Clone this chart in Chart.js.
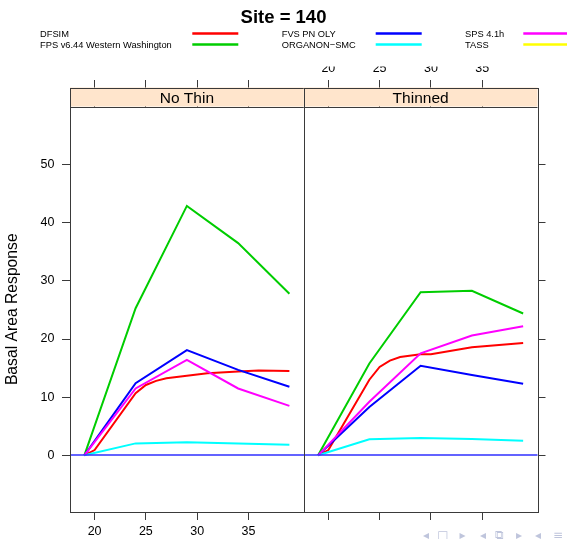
<!DOCTYPE html>
<html>
<head>
<meta charset="utf-8">
<script src="https://cdn.jsdelivr.net/npm/chart.js@4/dist/chart.umd.min.js"></script>
<style>
  html, body { margin: 0; padding: 0; background: #ffffff; }
  canvas { display: block; }
</style>
</head>
<body>
<canvas id="chart" width="567" height="539"></canvas>
<script>
// Basal area response by stand age for two thinning treatments, one line per growth model.
const mainTitle = 'Site = 140';
const panelNames = ['No Thin', 'Thinned'];
const yAxisTitle = 'Basal Area Response';
const seriesNames = ['DFSIM', 'FPS v6.44 Western Washington', 'FVS PN OLY',
                     'ORGANON\u2212SMC', 'SPS 4.1h', 'TASS'];
const seriesColors = ['#ff0000', '#00cd00', '#0000ff', '#00ffff', '#ff00ff', '#ffff00'];

const xTicks = [20, 25, 30, 35];
const yTicks = [0, 10, 20, 30, 40, 50];

// stand ages shared by most models
const ages = [19, 24, 29, 34, 39];
// DFSIM reports on a finer age grid
const dfsimAgesNoThin = [19, 20, 24, 25, 26, 27, 29, 31, 34, 36, 39];
const dfsimAgesThinned = [19, 20, 24, 25, 26, 27, 29, 30, 34, 39];

// No Thin
const dfsimNoThin   = [0, 0.9, 10.7, 12.1, 12.8, 13.25, 13.7, 14.1, 14.4, 14.6, 14.5];
const fpsNoThin     = [0, 25.3, 42.9, 36.5, 27.8];
const fvsNoThin     = [0, 12.4, 18.1, 14.7, 11.8];
const organonNoThin = [0, 2.05, 2.25, 2.05, 1.8];
const spsNoThin     = [0, 11.5, 16.4, 11.5, 8.5];
const tassNoThin    = [];

// Thinned
const dfsimThinned   = [0, 0.9, 13.0, 15.2, 16.3, 16.9, 17.4, 17.4, 18.6, 19.3];
const fpsThinned     = [0, 15.8, 28.05, 28.3, 24.4];
const fvsThinned     = [0, 8.3, 15.4, 13.8, 12.3];
const organonThinned = [0, 2.75, 3.0, 2.8, 2.5];
const spsThinned     = [0, 9.2, 17.55, 20.6, 22.2];
const tassThinned    = [];

const panelValues = [
  [dfsimNoThin, fpsNoThin, fvsNoThin, organonNoThin, spsNoThin, tassNoThin],
  [dfsimThinned, fpsThinned, fvsThinned, organonThinned, spsThinned, tassThinned]
];
const panelAges = [
  [dfsimAgesNoThin, ages, ages, ages, ages, ages],
  [dfsimAgesThinned, ages, ages, ages, ages, ages]
];
const panelAxes = ['xL', 'xR'];

const FONT = "'Liberation Sans', Arial, Helvetica, sans-serif";
Chart.defaults.font.family = FONT;
Chart.defaults.color = '#000000';

const datasets = [];
panelValues.forEach((series, p) => {
  series.forEach((vals, k) => {
    const xs = panelAges[p][k];
    datasets.push({
      label: seriesNames[k] + ' \u2013 ' + panelNames[p],
      data: vals.map((v, i) => ({ x: xs[i], y: v })),
      xAxisID: panelAxes[p],
      yAxisID: 'y',
      borderColor: seriesColors[k],
      backgroundColor: seriesColors[k],
      borderWidth: 2,
      pointRadius: 0,
      tension: 0,
      fill: false,
      order: 10 - k
    });
  });
});

const AXIS_COLOR = '#3a3a3a';
const STRIP_H = 19;

function xScale(position, stack, weight, showLabels, tickLength, padding, height) {
  return {
    type: 'linear', position, stack, stackWeight: 1, weight,
    min: 17.6, max: 40.4, offset: false,
    afterBuildTicks: s => { s.ticks = xTicks.map(v => ({ value: v })); },
    ticks: { display: showLabels, autoSkip: false, maxRotation: 0, padding,
             font: { size: 12.5 }, color: '#000000' },
    grid: { display: true, drawOnChartArea: false, drawTicks: true, tickLength,
            color: AXIS_COLOR, lineWidth: 1 },
    border: { display: false },
    afterFit: s => { s.height = height; }
  };
}

// panel strips, frames, the zero reference line, the key and the title
const latticeDecor = {
  id: 'latticeDecor',
  afterDatasetsDraw(chart) {
    const { ctx, chartArea: a, scales } = chart;
    const y0 = Math.round(scales.y.getPixelForValue(0));
    ctx.save();
    ctx.strokeStyle = '#2f2fff';
    ctx.lineWidth = 1.6;
    ctx.beginPath();
    ctx.moveTo(a.left, y0);
    ctx.lineTo(a.right, y0);
    ctx.stroke();
    ctx.restore();
  },
  afterDraw(chart) {
    const { ctx, chartArea: a, scales } = chart;
    ctx.save();
    const top = a.top - STRIP_H;
    const al = v => Math.round(v) + 0.5;
    panelNames.forEach((name, p) => {
      const sx = scales[panelAxes[p]];
      ctx.fillStyle = '#ffe5cc';
      ctx.fillRect(sx.left, top, sx.right - sx.left, STRIP_H);
      ctx.strokeStyle = AXIS_COLOR;
      ctx.lineWidth = 1;
      ctx.strokeRect(al(sx.left), al(top), Math.round(sx.right) - Math.round(sx.left), Math.round(a.bottom) - Math.round(top));
      ctx.beginPath();
      ctx.moveTo(sx.left, al(a.top));
      ctx.lineTo(sx.right, al(a.top));
      ctx.stroke();
      ctx.fillStyle = '#000000';
      ctx.font = '15.5px ' + FONT;
      ctx.textAlign = 'center';
      ctx.textBaseline = 'alphabetic';
      ctx.fillText(name, (sx.left + sx.right) / 2, a.top - 4);
    });

    // title
    ctx.fillStyle = '#000000';
    ctx.font = 'bold 18.5px ' + FONT;
    ctx.textAlign = 'center';
    ctx.textBaseline = 'alphabetic';
    ctx.fillText(mainTitle, chart.width / 2, 22.7);

    // key: three columns of two entries
    const textX = [40, 281.7, 465];
    const lineX = [192.3, 375.7, 523.3];
    const baseY = [36.7, 47.7];
    const lineY = [33.5, 44.5];
    ctx.font = '9.3px ' + FONT;
    ctx.textAlign = 'left';
    seriesNames.forEach((n, k) => {
      const c = Math.floor(k / 2), r = k % 2;
      ctx.fillStyle = '#000000';
      ctx.fillText(n, textX[c], baseY[r]);
      ctx.strokeStyle = seriesColors[k];
      ctx.lineWidth = 2.5;
      ctx.beginPath();
      ctx.moveTo(lineX[c], lineY[r]);
      ctx.lineTo(lineX[c] + 46, lineY[r]);
      ctx.stroke();
    });

    // slide navigation symbols
    ctx.fillStyle = '#bfc5dc';
    ctx.font = '12px DejaVu Sans, sans-serif';
    ctx.textAlign = 'center';
    ctx.textBaseline = 'middle';
    const nav = [['\u25C2', 426], ['\u25A1', 443], ['\u25B8', 462.5], ['\u25C2', 483],
                 ['\u29C9', 499], ['\u25B8', 519], ['\u25C2', 538], ['\u2261', 558]];
    nav.forEach(([g, x]) => ctx.fillText(g, x, 535.5));
    ctx.restore();
  }
};

new Chart(document.getElementById('chart'), {
  type: 'line',
  data: { datasets },
  plugins: [latticeDecor],
  options: {
    responsive: false,
    animation: false,
    devicePixelRatio: 1,
    layout: { padding: { top: 66.5, left: 0, right: 0, bottom: 0 } },
    plugins: { legend: { display: false }, title: { display: false }, tooltip: { enabled: false } },
    scales: {
      xL:  xScale('bottom', 'panels', 0, true, 8, 4.5, 27),
      xR:  xScale('bottom', 'panels', 1, false, 8, 4.5, 27),
      xLt: xScale('top', 'panels', 1, false, 26.5, 4, 40),
      xRt: xScale('top', 'panels', 0, true, 26.5, 4, 40),
      y: {
        type: 'linear', position: 'left', min: -9.75, max: 60,
        afterBuildTicks: s => { s.ticks = yTicks.map(v => ({ value: v })); },
        ticks: { padding: 7.5, font: { size: 12.5 }, color: '#000000' },
        grid: { display: true, drawOnChartArea: false, drawTicks: true, tickLength: 8,
                color: AXIS_COLOR, lineWidth: 1 },
        border: { display: false },
        title: { display: true, text: yAxisTitle, color: '#000000',
                 font: { size: 15.7 }, padding: { top: 3.5, bottom: 0 } },
        afterFit: s => { s.width = 70; }
      },
      yR: {
        type: 'linear', position: 'right', min: -9.75, max: 60,
        afterBuildTicks: s => { s.ticks = yTicks.map(v => ({ value: v })); },
        ticks: { display: false },
        grid: { display: true, drawOnChartArea: false, drawTicks: true, tickLength: 8,
                color: AXIS_COLOR, lineWidth: 1 },
        border: { display: false },
        afterFit: s => { s.width = 29.5; }
      }
    }
  }
});
</script>
</body>
</html>
